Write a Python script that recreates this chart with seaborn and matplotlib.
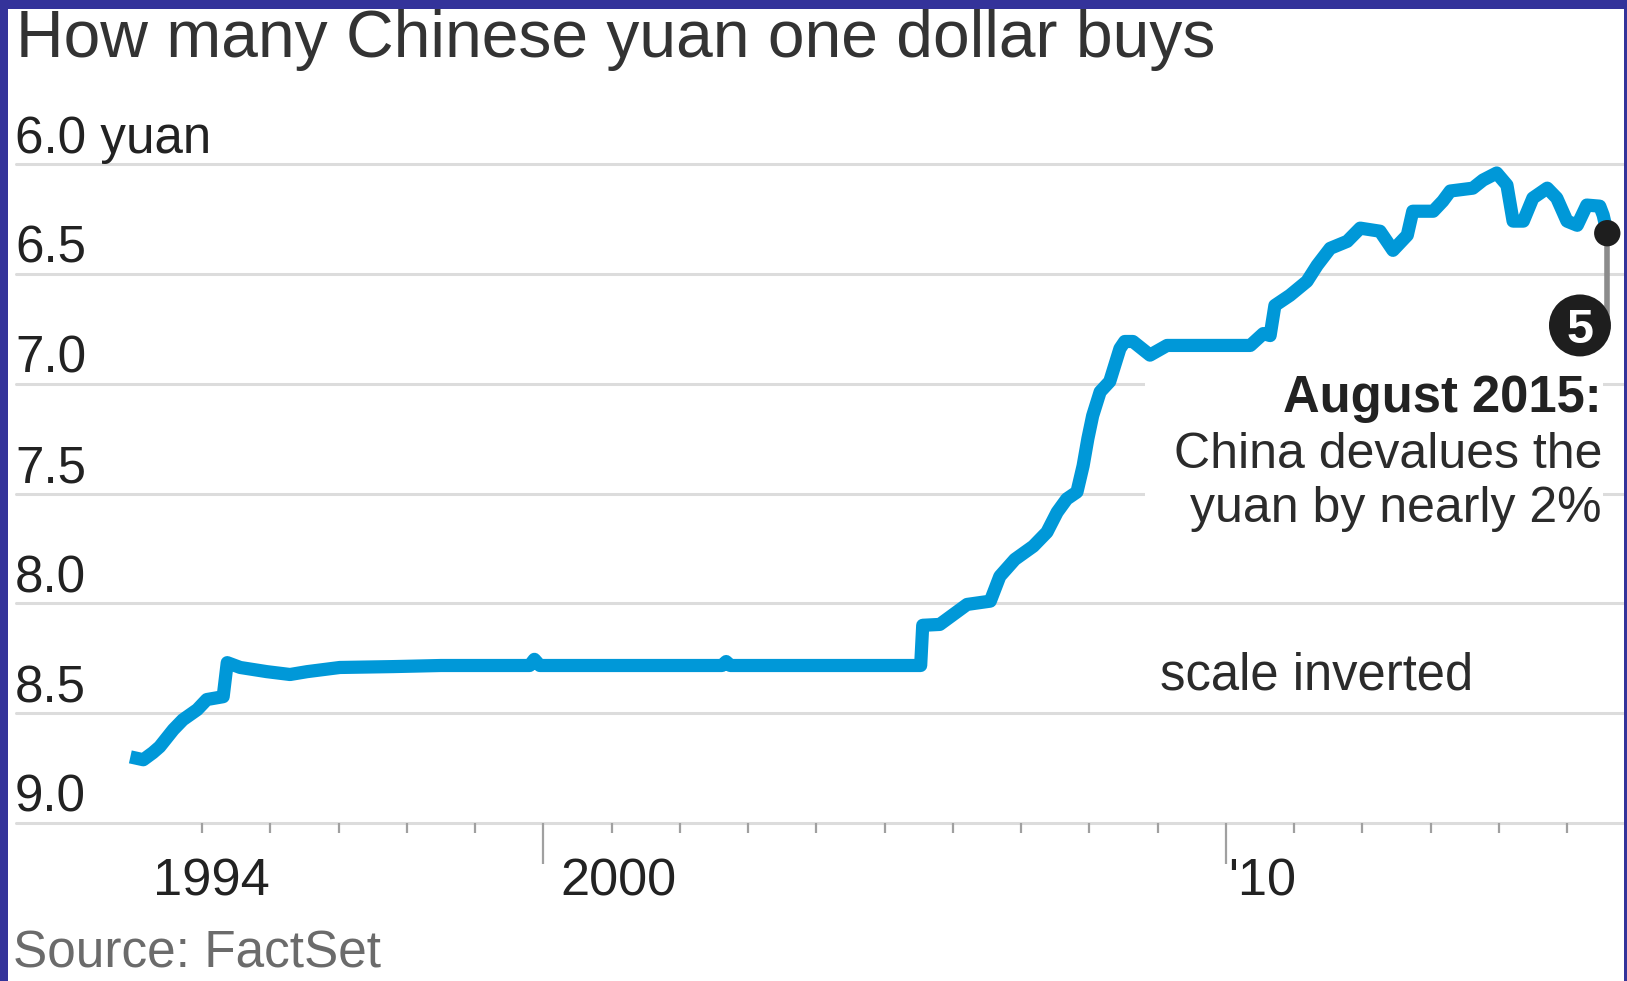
import matplotlib
matplotlib.use("Agg")
import matplotlib.pyplot as plt
import matplotlib.font_manager as fm
from matplotlib.patches import Rectangle
import seaborn as sns
import pandas as pd

# ---------------- data ----------------
years = [1993.95, 1994.14, 1994.28, 1994.38, 1994.58, 1994.72, 1994.93, 1995.07,
         1995.31, 1995.37, 1995.56, 1995.95, 1996.29, 1996.54, 1997.02, 1997.80,
         1998.50, 1999.80, 1999.87, 1999.95, 2002.62, 2002.68, 2002.74, 2005.53,
         2005.56, 2005.81, 2006.21, 2006.55, 2006.69, 2006.91, 2007.18, 2007.38,
         2007.53, 2007.67, 2007.82, 2007.91, 2007.98, 2008.05, 2008.16, 2008.30,
         2008.45, 2008.52, 2008.64, 2008.89, 2009.14, 2010.36, 2010.55, 2010.65,
         2010.72, 2010.94, 2011.19, 2011.34, 2011.53, 2011.78, 2011.97, 2012.26,
         2012.45, 2012.66, 2012.74, 2013.04, 2013.18, 2013.29, 2013.62, 2013.77,
         2013.97, 2014.12, 2014.21, 2014.36, 2014.50, 2014.71, 2014.85, 2015.00,
         2015.15, 2015.29, 2015.48, 2015.53, 2015.59]
yuan = [8.699, 8.712, 8.680, 8.653, 8.575, 8.530, 8.484, 8.438,
        8.425, 8.270, 8.292, 8.311, 8.324, 8.311, 8.292, 8.288,
        8.283, 8.283, 8.255, 8.283, 8.283, 8.265, 8.283, 8.283,
        8.100, 8.096, 8.005, 7.990, 7.877, 7.800, 7.740, 7.676,
        7.585, 7.525, 7.493, 7.374, 7.250, 7.146, 7.037, 6.990,
        6.840, 6.808, 6.808, 6.870, 6.826, 6.826, 6.772, 6.781,
        6.644, 6.598, 6.534, 6.461, 6.384, 6.352, 6.292, 6.306,
        6.393, 6.324, 6.215, 6.215, 6.169, 6.123, 6.110, 6.073,
        6.041, 6.096, 6.260, 6.260, 6.155, 6.110, 6.155, 6.260,
        6.279, 6.187, 6.192, 6.233, 6.315]

y_ticks = [6.0, 6.5, 7.0, 7.5, 8.0, 8.5, 9.0]
y_labels = ["6.0 yuan", "6.5", "7.0", "7.5", "8.0", "8.5", "9.0"]
x_label_years = [1994, 2000, 2010]
x_labels = ["1994", "2000", "'10"]
tick_years = list(range(1995, 2016))
long_tick_years = [2000, 2010]

event_year, event_value = 2015.59, 6.315
event_number = "5"

title = "How many Chinese yuan one dollar buys"
source = "Source: FactSet"
note = "scale inverted"
ann_head = "August 2015:"
ann_body = ["China devalues the", "yuan by nearly 2%"]

# ---------------- style ----------------
W, H = 1627, 981
BLUE = "#0098d8"
GRID = "#dcdcdc"
TEXT = "#2b2b2b"
BORDER = "#34339a"

sns.set_theme(style="white")
avail = {f.name for f in fm.fontManager.ttflist}
REG = "Liberation Sans"
NARROW = "Liberation Sans Narrow" if "Liberation Sans Narrow" in avail else REG
nscale = 1.0 if NARROW != REG else 0.92
plt.rcParams["font.family"] = [REG, "DejaVu Sans"]

fig = plt.figure(figsize=(W / 100, H / 100), dpi=100)
fig.patch.set_facecolor("white")

def fx(px):
    return px / W

def fy(py):
    return 1 - py / H

ax_left, ax_right, ax_top, ax_bot = 16, 1624, 164, 823
ax = fig.add_axes([fx(ax_left), fy(ax_bot), (ax_right - ax_left) / W, (ax_bot - ax_top) / H])
ax.set_facecolor("white")

df = pd.DataFrame({"year": years, "yuan": yuan})
sns.lineplot(data=df, x="year", y="yuan", ax=ax, color=BLUE, linewidth=9.5,
             sort=False, estimator=None, zorder=3,
             solid_joinstyle="round", solid_capstyle="butt")

x0 = 1995 + (ax_left - 202) / 68.25
x1 = 1995 + (ax_right - 202) / 68.25
ax.set_xlim(x0, x1)
ax.set_ylim(9.0, 6.0)
for s in ax.spines.values():
    s.set_visible(False)
ax.set_xlabel("")
ax.set_ylabel("")

# gridlines
for v in y_ticks:
    ax.axhline(v, color=GRID, linewidth=2.2, zorder=0.5, clip_on=False)

# white block behind the annotation text
ax.add_patch(Rectangle((2008.82, 6.82), 2015.53 - 2008.82, 7.68 - 6.82,
                       facecolor="white", edgecolor="none", zorder=1))

# ticks
ax.set_yticks([])
ax.set_xticks(long_tick_years)
ax.set_xticks([y for y in tick_years if y not in long_tick_years], minor=True)
ax.tick_params(axis="x", which="major", bottom=True, length=29.5, width=1.6,
               color="#a0a0a0", direction="out", labelbottom=False)
ax.tick_params(axis="x", which="minor", bottom=True, length=7.5, width=1.6,
               color="#a0a0a0", direction="out", labelbottom=False)

# y labels
for v, lab in zip(y_ticks, y_labels):
    ax.annotate(lab, xy=(0, v), xycoords=("axes fraction", "data"),
                xytext=(-1, 11), textcoords="offset pixels",
                ha="left", va="baseline", fontsize=40 * nscale,
                family=[NARROW, "DejaVu Sans"], color="#222222",
                annotation_clip=False)

# x labels (left-aligned, slightly right of the year tick)
x_offsets = [0.28, 0.25, 0.03]
for yr, lab, off in zip(x_label_years, x_labels, x_offsets):
    ax.annotate(lab, xy=(yr + off, 9.0), xycoords="data",
                xytext=(0, -73), textcoords="offset pixels",
                ha="left", va="baseline", fontsize=41 * nscale,
                family=[NARROW, "DejaVu Sans"], color="#222222",
                annotation_clip=False)

# event marker
ax.plot([event_year, event_year], [event_value, 6.72], color="#8c8c8c",
        linewidth=4, zorder=4, solid_capstyle="butt")
ax.scatter([event_year], [event_value], s=360, color="#1e1e1e", zorder=6,
           edgecolors="none")
ax.scatter([2015.19], [6.735], s=1990, color="#1e1e1e", zorder=6,
           edgecolors="none")
ax.text(2015.19, 6.735, event_number, ha="center", va="center_baseline",
        fontsize=35, fontweight="bold", color="white", zorder=7)

# annotation text
fig.text(fx(1602), fy(412), ann_head, ha="right", va="baseline",
         fontsize=36.5, fontweight="bold", color="#222222")
for i, line in enumerate(ann_body):
    fig.text(fx(1602), fy(468 + 54 * i), line, ha="right", va="baseline",
             fontsize=36, color=TEXT)

fig.text(fx(1160), fy(690), note, ha="left", va="baseline",
         fontsize=36.5, color=TEXT)

# title and source
fig.text(fx(16), fy(57), title, ha="left", va="baseline",
         fontsize=47.5, color="#333333")
fig.text(fx(13), fy(968), source, ha="left", va="baseline",
         fontsize=37, color="#6b6b6b")

# frame border (left, top, right)
fig.patches.append(Rectangle((0, 0), fx(8), 1, transform=fig.transFigure,
                             facecolor=BORDER, edgecolor="none", zorder=10))
fig.patches.append(Rectangle((0, fy(9)), 1, 9 / H, transform=fig.transFigure,
                             facecolor=BORDER, edgecolor="none", zorder=10))
fig.patches.append(Rectangle((fx(1624), 0), 3 / W, 1, transform=fig.transFigure,
                             facecolor=BORDER, edgecolor="none", zorder=10))

fig.savefig("out.png", dpi=100, facecolor="white")
